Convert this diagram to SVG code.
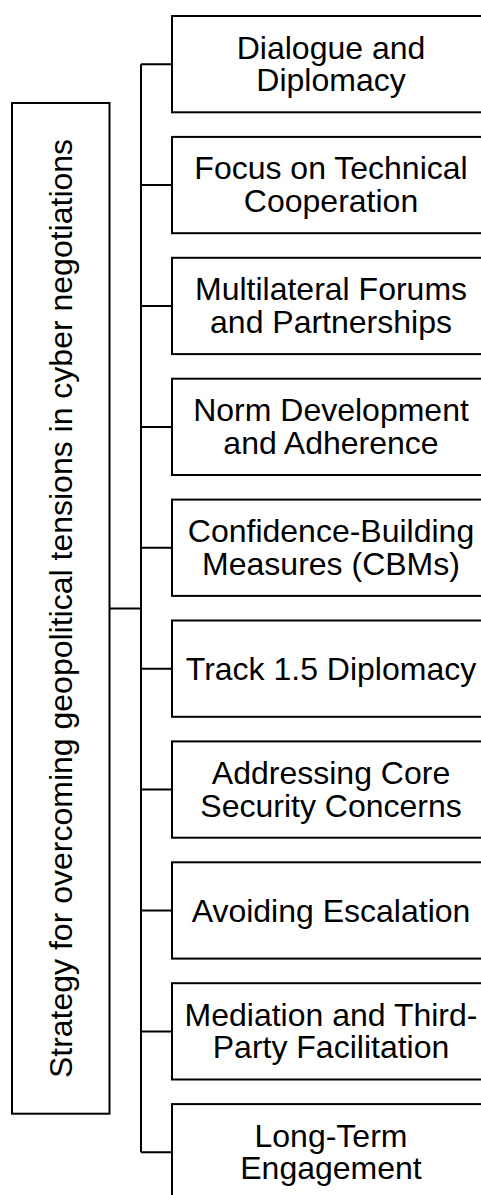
<svg xmlns="http://www.w3.org/2000/svg" width="481" height="1195" viewBox="0 0 481 1195">
<style>
.box{fill:#fff;stroke:#000;stroke-width:2}
.lbl{font-family:"Liberation Sans",Arial,sans-serif;font-size:32px;fill:#000;text-anchor:middle}
.conn{fill:none;stroke:#000;stroke-width:2}
</style>
<rect width="481" height="1195" fill="#fff"/>
<g id="connectors">
<path class="conn" d="M109.5 608.5H141M141 64.2V1152.2"/>
<path class="conn" d="M141 64.2H172M141 185.1H172M141 306H172M141 426.9H172M141 547.8H172M141 668.7H172M141 789.6H172M141 910.5H172M141 1031.4H172M141 1152.3H172"/>
</g>
<g id="root">
<rect class="box" x="12" y="103" width="97.5" height="1010.7"/>
<text class="lbl" transform="translate(71.5 608.5) rotate(-90)" x="0" y="0">Strategy for overcoming geopolitical tensions in cyber negotiations</text>
</g>
<g id="n1"><rect class="box" x="172" y="16" width="330" height="96.3"/><text class="lbl" x="331" y="58.5">Dialogue and</text><text class="lbl" x="331" y="91.2">Diplomacy</text></g>
<g id="n2"><rect class="box" x="172" y="136.9" width="330" height="96.3"/><text class="lbl" x="331" y="179.4">Focus on Technical</text><text class="lbl" x="331" y="212.1">Cooperation</text></g>
<g id="n3"><rect class="box" x="172" y="257.8" width="330" height="96.3"/><text class="lbl" x="331" y="300.3">Multilateral Forums</text><text class="lbl" x="331" y="333">and Partnerships</text></g>
<g id="n4"><rect class="box" x="172" y="378.7" width="330" height="96.3"/><text class="lbl" x="331" y="421.2">Norm Development</text><text class="lbl" x="331" y="453.9">and Adherence</text></g>
<g id="n5"><rect class="box" x="172" y="499.6" width="330" height="96.3"/><text class="lbl" x="331" y="542.1">Confidence-Building</text><text class="lbl" x="331" y="574.8">Measures (CBMs)</text></g>
<g id="n6"><rect class="box" x="172" y="620.5" width="330" height="96.3"/><text class="lbl" x="331" y="680">Track 1.5 Diplomacy</text></g>
<g id="n7"><rect class="box" x="172" y="741.4" width="330" height="96.3"/><text class="lbl" x="331" y="783.9">Addressing Core</text><text class="lbl" x="331" y="816.6">Security Concerns</text></g>
<g id="n8"><rect class="box" x="172" y="862.3" width="330" height="96.3"/><text class="lbl" x="331" y="921.8">Avoiding Escalation</text></g>
<g id="n9"><rect class="box" x="172" y="983.2" width="330" height="96.3"/><text class="lbl" x="331" y="1025.7">Mediation and Third-</text><text class="lbl" x="331" y="1058.4">Party Facilitation</text></g>
<g id="n10"><rect class="box" x="172" y="1104.1" width="330" height="96.3"/><text class="lbl" x="331" y="1146.6">Long-Term</text><text class="lbl" x="331" y="1179.3">Engagement</text></g>
</svg>
